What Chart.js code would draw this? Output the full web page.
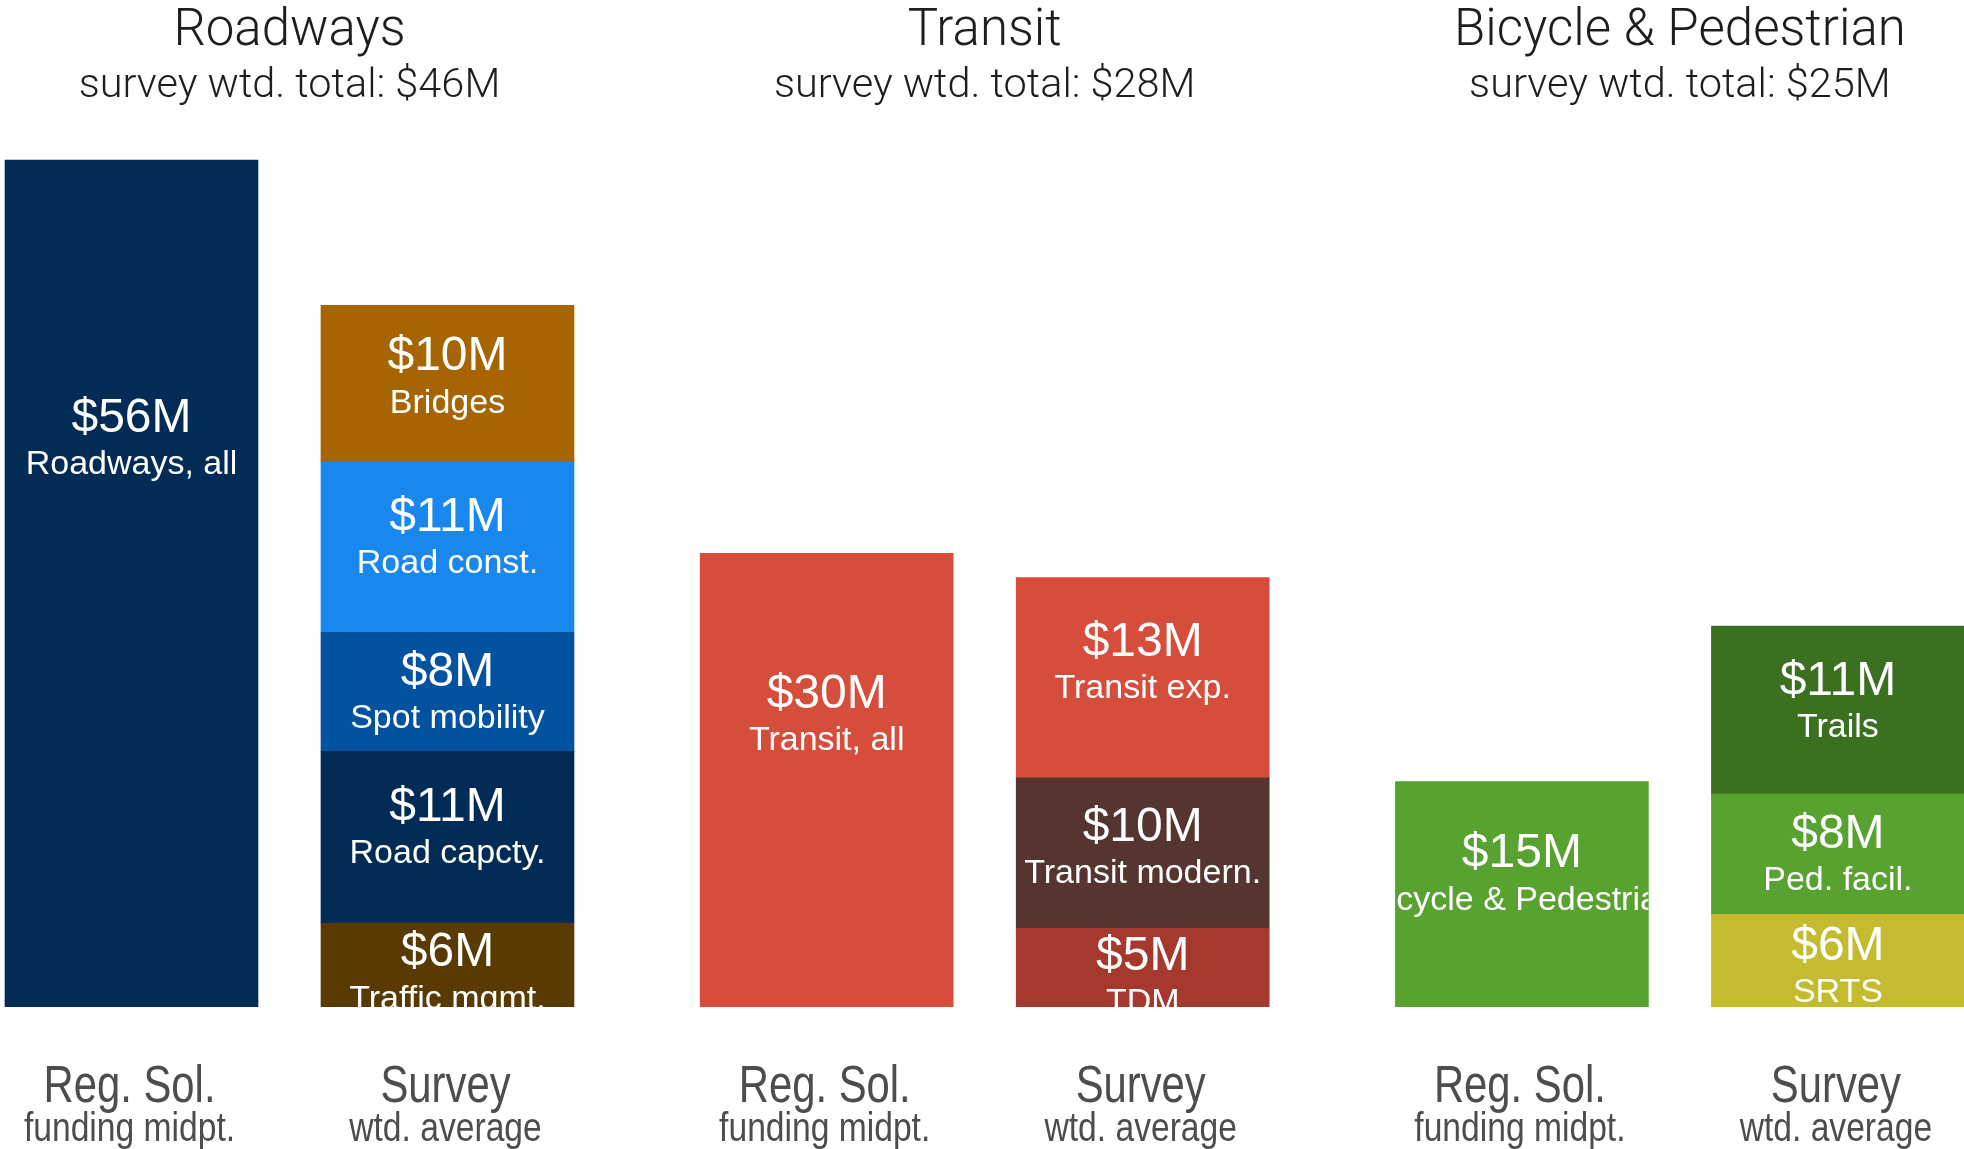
<!DOCTYPE html>
<html>
<head>
<meta charset="utf-8">
<script src="https://cdn.jsdelivr.net/npm/chart.js@4.4.1/dist/chart.umd.min.js"></script>
<style>
html,body{margin:0;padding:0;background:#ffffff;overflow:hidden}
#wrap{width:1964px;height:1149px;position:relative}
</style>
</head>
<body>
<div id="wrap"><canvas id="c" width="1964" height="1149"></canvas></div>
<script>
// ---- data (values in $M) ----
const groups = ["Roadways", "Transit", "Bicycle & Pedestrian"];
const barKinds = [["Reg. Sol.", "funding midpt."], ["Survey", "wtd. average"]];

const regSolValues = [56, 30, 14.9];
const regSolNames = ["Roadways, all", "Transit, all", "Bicycle & Pedestrian"];

// survey components, listed bottom to top
const roadwaysSurveyNames = ["Traffic mgmt.", "Road capcty.", "Spot mobility", "Road const.", "Bridges"];
const roadwaysSurveyValues = [5.55, 11.35, 7.87, 11.27, 10.36];
const transitSurveyNames = ["TDM", "Transit modern.", "Transit exp."];
const transitSurveyValues = [5.2, 9.95, 13.25];
const bikeSurveyNames = ["SRTS", "Ped. facil.", "Trails"];
const bikeSurveyValues = [6.13, 7.95, 11.1];

// ---- styles ----
const regSolColors = ["#022c56", "#d64d3b", "#58a230"];
const roadwaysSurveyColors = ["#583a02", "#022c56", "#03529f", "#1a87ee", "#a66500"];
const transitSurveyColors = ["#a5392d", "#563530", "#d64d3b"];
const bikeSurveyColors = ["#c4bb2e", "#58a230", "#3c7021"];

const surveyNames = [roadwaysSurveyNames, transitSurveyNames, bikeSurveyNames];
const surveyValues = [roadwaysSurveyValues, transitSurveyValues, bikeSurveyValues];
const surveyColors = [roadwaysSurveyColors, transitSurveyColors, bikeSurveyColors];

const groupStep = 2.2;       // distance between groups, in bar slots
const xOf = (g, k) => g * groupStep + k;

const datasets = [];
groups.forEach((grp, g) => {
  datasets.push({label: regSolNames[g], data: [{x: xOf(g, 0), y: regSolValues[g]}],
                 backgroundColor: regSolColors[g]});
  surveyValues[g].forEach((v, j) => {
    datasets.push({label: surveyNames[g][j], data: [{x: xOf(g, 1), y: v}],
                   backgroundColor: surveyColors[g][j]});
  });
});

const FONT = '"Liberation Sans", Arial, Helvetica, sans-serif';
const LIGHT = '"Roboto", "Liberation Sans", Arial, sans-serif';

const textPlugin = {
  id: 'texts',
  afterDatasetsDraw(chart) {
    const ctx = chart.ctx;
    const xs = chart.scales.x;
    // in-bar labels
    chart.data.datasets.forEach((ds, i) => {
      const el = chart.getDatasetMeta(i).data[0];
      if (!el) return;
      const p = el.getProps(['x', 'y', 'base', 'width'], true);
      const top = Math.min(p.y, p.base), bot = Math.max(p.y, p.base);
      ctx.save();
      ctx.beginPath();
      ctx.rect(p.x - p.width / 2, top, p.width, bot - top);
      ctx.clip();
      const cy = bot - 0.7 * (bot - top) + 5;
      ctx.fillStyle = '#ffffff';
      ctx.textAlign = 'center';
      ctx.textBaseline = 'middle';
      ctx.font = '48px ' + FONT;
      ctx.fillText('$' + Math.round(ds.data[0].y) + 'M', p.x, cy);
      ctx.font = '34px ' + FONT;
      ctx.fillText(ds.label, p.x, cy + 46);
      ctx.restore();
    });
    // group titles
    groups.forEach((grp, g) => {
      const cx = xs.getPixelForValue(xOf(g, 0.5));
      const total = surveyValues[g].reduce((a, b) => a + b, 0);
      ctx.save();
      ctx.fillStyle = '#1e1e1e';
      ctx.textAlign = 'center';
      ctx.textBaseline = 'alphabetic';
      ctx.font = '300 51px ' + LIGHT;
      ctx.fillText(grp, cx, 45);
      ctx.font = '300 41.5px ' + LIGHT;
      ctx.fillText('survey wtd. total: $' + Math.round(total) + 'M', cx, 97);
      ctx.restore();
      // bar captions
      [0, 1].forEach(k => {
        const bx = xs.getPixelForValue(xOf(g, k));
        ctx.save();
        ctx.fillStyle = '#4d4d4d';
        ctx.textAlign = 'center';
        ctx.textBaseline = 'alphabetic';
        ctx.translate(bx - 2, 0);
        ctx.scale(0.82, 1);
        ctx.font = '51px ' + FONT;
        ctx.fillText(barKinds[k][0], 0, 1102);
        ctx.font = '41px ' + FONT;
        ctx.fillText(barKinds[k][1], 0, 1141);
        ctx.restore();
      });
    });
  }
};

new Chart(document.getElementById('c'), {
  type: 'bar',
  data: {datasets},
  options: {
    responsive: false,
    animation: false,
    layout: {padding: {left: 0, right: 0, top: 0, bottom: 142}},
    datasets: {bar: {barThickness: 253, borderWidth: 0}},
    plugins: {legend: {display: false}, tooltip: {enabled: false}, title: {display: false}},
    scales: {
      x: {type: 'linear', display: false, stacked: true, offset: false, bounds: 'data',
          min: -0.4161, max: 5.799},
      y: {display: false, stacked: true, bounds: 'data', min: 0, max: 66.58}
    }
  },
  plugins: [textPlugin]
});
</script>
</body>
</html>
